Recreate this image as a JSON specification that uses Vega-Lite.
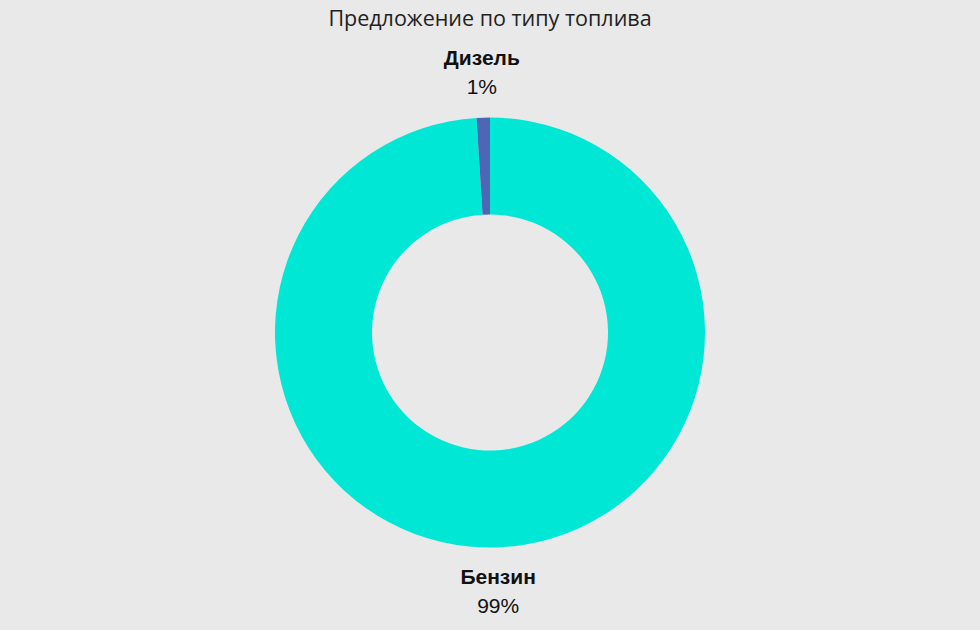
{
  "$schema": "https://vega.github.io/schema/vega-lite/v6.json",
  "width": 980,
  "height": 630,
  "autosize": {"type": "fit", "contains": "padding"},
  "padding": {"top": 8, "bottom": 0, "left": 0, "right": 0},
  "background": "#e9e9e9",
  "title": {
    "text": "Предложение по типу топлива",
    "font": "Open Sans",
    "fontSize": 21.5,
    "fontWeight": "normal",
    "color": "#222222",
    "anchor": "middle",
    "offset": 5
  },
  "config": {"view": {"stroke": null}},
  "data": {
    "values": [
      {"fuel": "Бензин", "value": 99, "pct": "99%"},
      {"fuel": "Дизель", "value": 1, "pct": "1%"}
    ]
  },
  "encoding": {
    "theta": {"field": "value", "type": "quantitative", "stack": true},
    "order": {"field": "value", "type": "quantitative", "sort": "descending"}
  },
  "layer": [
    {
      "mark": {"type": "arc", "outerRadius": 215, "innerRadius": 118},
      "encoding": {
        "color": {
          "field": "fuel",
          "type": "nominal",
          "scale": {"domain": ["Бензин", "Дизель"], "range": ["#00e8d5", "#4d66b5"]},
          "legend": null
        }
      }
    },
    {
      "mark": {"type": "text", "radius": 260, "dy": -14, "font": "Liberation Sans", "fontSize": 21, "fontWeight": "bold", "color": "#111111"},
      "encoding": {"text": {"field": "fuel", "type": "nominal"}}
    },
    {
      "mark": {"type": "text", "radius": 260, "dy": 15, "font": "Liberation Sans", "fontSize": 21, "fontWeight": "normal", "color": "#111111"},
      "encoding": {"text": {"field": "pct", "type": "nominal"}}
    }
  ]
}
